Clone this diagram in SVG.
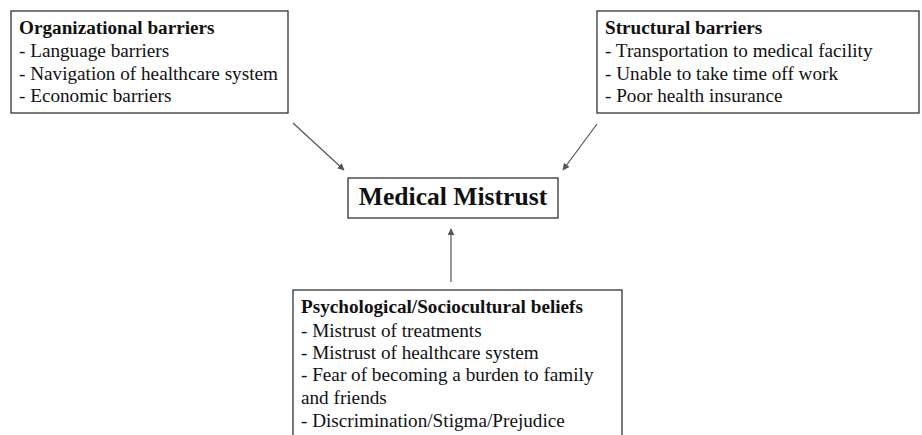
<svg xmlns="http://www.w3.org/2000/svg" width="922" height="435" viewBox="0 0 922 435">
<defs>
<style>
.box{fill:#fff;stroke:#333;stroke-width:1.3}
.t{font-family:"Liberation Serif","Times New Roman",serif;font-size:19.2px;fill:#111}
.b{font-weight:bold}
.c{stroke:#555;stroke-width:1.2;fill:none}
</style>
<marker id="ah" viewBox="0 0 10 10" refX="9" refY="5" markerWidth="7" markerHeight="7" orient="auto" markerUnits="userSpaceOnUse">
<path d="M0,0 L10,5 L0,10 z" fill="#555"/>
</marker>
</defs>
<rect width="922" height="435" fill="#fff"/>
<g id="org">
<rect class="box" x="11" y="11" width="277" height="102"/>
<text class="t" x="19" y="34"><tspan class="b">Organizational barriers</tspan><tspan x="19" y="57">- Language barriers</tspan><tspan x="19" y="80">- Navigation of healthcare system</tspan><tspan x="19" y="102">- Economic barriers</tspan></text>
</g>
<g id="struct">
<rect class="box" x="597" y="11" width="322" height="102"/>
<text class="t" x="605" y="34"><tspan class="b">Structural barriers</tspan><tspan x="605" y="57">- Transportation to medical facility</tspan><tspan x="605" y="80">- Unable to take time off work</tspan><tspan x="605" y="102">- Poor health insurance</tspan></text>
</g>
<g id="mistrust">
<rect class="box" x="348" y="178" width="210" height="40"/>
<text class="t b" x="453" y="205" text-anchor="middle" style="font-size:25.6px">Medical Mistrust</text>
</g>
<g id="psych">
<rect class="box" x="293" y="290" width="329" height="150"/>
<text class="t" x="301" y="313"><tspan class="b">Psychological/Sociocultural beliefs</tspan><tspan x="301" y="337">- Mistrust of treatments</tspan><tspan x="301" y="359">- Mistrust of healthcare system</tspan><tspan x="301" y="381">- Fear of becoming a burden to family</tspan><tspan x="301" y="404">and friends</tspan><tspan x="301" y="427">- Discrimination/Stigma/Prejudice</tspan></text>
</g>
<g id="connectors">
<line class="c" x1="293" y1="123" x2="344" y2="170" marker-end="url(#ah)"/>
<line class="c" x1="597" y1="124" x2="563" y2="170" marker-end="url(#ah)"/>
<line class="c" x1="451" y1="282" x2="451" y2="229" marker-end="url(#ah)"/>
</g>
</svg>
